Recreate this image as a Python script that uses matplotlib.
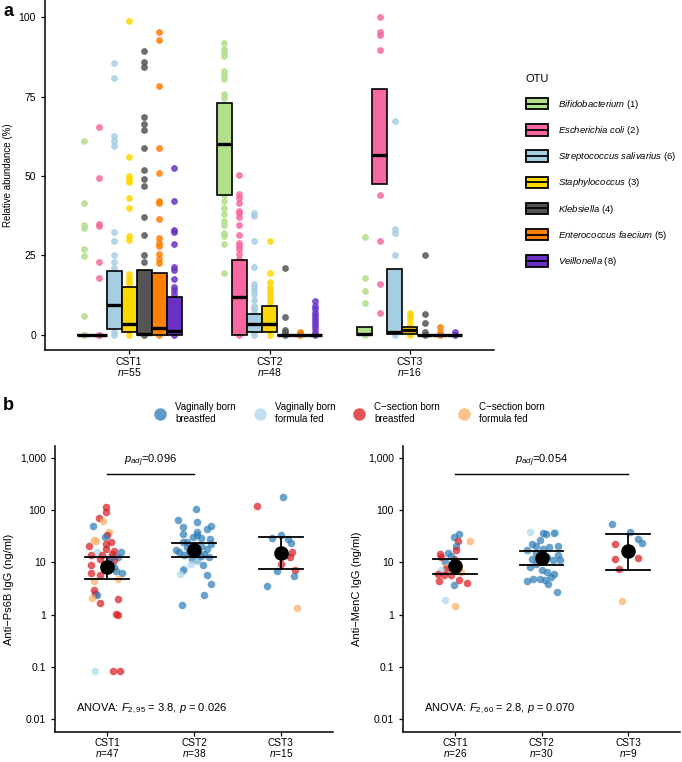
import numpy as np
import matplotlib.pyplot as plt
from matplotlib.patches import Rectangle
from matplotlib.lines import Line2D
from matplotlib.legend_handler import HandlerBase

plt.rcParams['font.family'] = ['Liberation Sans', 'DejaVu Sans']
plt.rcParams['mathtext.fontset'] = 'custom'
plt.rcParams['mathtext.rm'] = 'Liberation Sans'
plt.rcParams['mathtext.it'] = 'Liberation Sans:italic'
plt.rcParams['mathtext.bf'] = 'Liberation Sans:bold'

# ---- panel a data ----
cst_labels = ['CST1\n$\\it{n}$=55', 'CST2\n$\\it{n}$=48', 'CST3\n$\\it{n}$=16']
otu_names = ['$\\it{Bifidobacterium}$ (1)', '$\\it{Escherichia\\ coli}$ (2)',
             '$\\it{Streptococcus\\ salivarius}$ (6)', '$\\it{Staphylococcus}$ (3)',
             '$\\it{Klebsiella}$ (4)', '$\\it{Enterococcus\\ faecium}$ (5)',
             '$\\it{Veillonella}$ (8)']
otu_colors = ['#b2df8a', '#f768a1', '#a6cee3', '#ffd700', '#555555', '#ff7f00', '#6a32c4']

cst1_points = [
    [61, 41.4, 34.6, 33.8, 27.1, 24.8, 6, 0, 0, 0],
    [65.5, 49.5, 35, 34.2, 23, 18, 0, 0],
    [85.5, 81, 62.5, 61, 59.5, 32.5, 29.5, 25, 23, 21, 19, 17, 15, 13, 11, 9, 7, 5, 3, 1, 0],
    [99, 56, 50, 49, 48, 43, 40, 31, 30, 19, 18, 17, 16, 14, 12, 10, 8, 6, 4, 2, 0],
    [89.5, 86, 84.5, 68.5, 66.5, 64.5, 59, 52, 49, 47, 37, 31.5, 25, 23, 0],
    [95.5, 93, 78.5, 59, 51, 42, 41.5, 36.5, 30.5, 29, 28, 25.5, 24, 22.5, 0],
    [52.5, 42, 33, 32.5, 28.5, 21.5, 20.5, 17.5, 15, 14, 13, 0],
]
cst2_points = [
    [92, 90, 89, 88, 83, 82, 80.5, 76, 74.5, 72, 70, 66, 62, 58, 52, 48, 44, 42, 40,
     38, 36, 34.5, 32, 31, 28.5, 19.5],
    [50.5, 44.5, 43, 41.5, 39, 38.5, 37, 34.5, 31.5, 29, 28, 27, 25.5, 24, 20, 15, 10, 5, 0],
    [38.5, 37.5, 29.5, 21.5, 16, 15, 14, 13, 11, 9, 8, 7, 6, 5, 4, 3, 2, 1, 0],
    [29.7, 19.5, 16.5, 15, 14, 13, 12, 11, 10, 8, 6, 4, 2, 0],
    [20.9, 5.6, 1.5, 1, 0],
    [1, 0.5, 0],
    [10.5, 9, 8, 7, 6, 5, 4, 3, 2, 1, 0],
]
cst3_points = [
    [30.9, 17.8, 13.8, 10, 0],
    [100.3, 95.4, 94.5, 89.6, 44.2, 29.7, 16, 7],
    [67.4, 33.2, 32.2, 25.2, 0],
    [7, 6, 5, 3.5, 2, 0.5, 0],
    [25, 6.5, 3.7, 1, 0],
    [2.3, 1, 0],
    [0.8, 0],
]
# (q1, median, q3) per OTU
cst1_box = [(0, 0, 0), (0, 0, 0), (1.8, 9.5, 20), (1, 3.5, 15), (0, 0.3, 20.3), (0, 2, 19.5), (0, 1.2, 12)]
cst2_box = [(44, 60, 73), (0, 12, 23.5), (1, 3.5, 6.6), (0.8, 3.4, 9.2), (0, 0, 0), (0, 0, 0), (0, 0, 0)]
cst3_box = [(0, 0.3, 2.5), (47.4, 56.6, 77.4), (0.3, 0.8, 20.6), (0.3, 1.5, 2.5), (0, 0, 0), (0, 0, 0), (0, 0, 0)]

# ---- panel b data ----
group_names = ['Vaginally born\nbreastfed', 'Vaginally born\nformula fed',
               'C\u2212section born\nbreastfed', 'C\u2212section born\nformula fed']
group_colors = {'B': '#2c7bb6', 'LB': '#abd9e9', 'R': '#d7191c', 'O': '#fdae61'}

ps6b_labels = ['CST1\n$\\it{n}$=47', 'CST2\n$\\it{n}$=38', 'CST3\n$\\it{n}$=15']
ps6b_cst1 = [(114, -0.01, 'R'), (91, -0.01, 'R'), (70, -0.09, 'R'), (63, -0.05, 'O'),
             (50, -0.16, 'B'), (38, 0.02, 'O'), (34, 0.0, 'R'), (30, -0.03, 'B'),
             (27, -0.15, 'O'), (26, -0.13, 'O'), (24.5, 0.04, 'R'), (22.8, -0.01, 'R'),
             (21, -0.21, 'R'), (18, -0.01, 'R'), (16.3, 0.08, 'R'), (15.8, -0.12, 'LB'),
             (15.8, 0.16, 'B'), (13.7, -0.06, 'R'), (13.7, -0.18, 'R'), (12.7, 0.13, 'B'),
             (11.8, -0.08, 'R'), (11, 0.08, 'R'), (10.5, 0.02, 'R'), (9.5, -0.04, 'R'),
             (8.8, -0.19, 'R'), (8.8, 0.04, 'R'), (8.2, 0.08, 'B'), (6.8, 0.1, 'B'),
             (6.4, -0.18, 'R'), (6.3, 0.17, 'B'), (5.7, -0.08, 'R'), (4.9, 0.13, 'O'),
             (4.4, -0.15, 'O'), (2.9, -0.15, 'R'), (2.5, -0.14, 'R'), (2.4, -0.12, 'B'),
             (2.1, -0.17, 'O'), (1.7, -0.08, 'R'), (1.96, 0.13, 'R'), (1.04, 0.1, 'R'),
             (0.99, 0.12, 'R'), (0.082, -0.14, 'LB'), (0.082, 0.07, 'R'), (0.082, 0.15, 'R'),
             (12, 0.04, 'B'), (7.5, -0.01, 'B'), (14.5, 0.06, 'R')]
ps6b_cst2 = [(106, 0.02, 'B'), (65, -0.18, 'B'), (58.5, 0.04, 'B'), (50.7, 0.19, 'B'),
             (47, -0.13, 'B'), (44, 0.15, 'B'), (39, 0.04, 'B'), (35.4, -0.13, 'B'),
             (30.6, -0.01, 'B'), (29, 0.08, 'B'), (28.5, 0.18, 'B'), (24.5, -0.08, 'B'),
             (21, 0.08, 'B'), (19.6, -0.08, 'B'), (18.3, 0.15, 'B'), (17, -0.21, 'B'),
             (15.8, -0.17, 'B'), (14.7, 0.12, 'B'), (13.7, -0.12, 'B'), (12.7, 0.17, 'B'),
             (11.8, -0.02, 'B'), (11, 0.04, 'B'), (10.5, 0.04, 'LB'), (8.8, 0.1, 'B'),
             (7.8, -0.12, 'LB'), (7.1, -0.13, 'B'), (6.1, -0.16, 'LB'), (5.7, 0.15, 'B'),
             (3.9, 0.19, 'B'), (2.4, 0.12, 'B'), (1.53, -0.14, 'B'), (16, -0.06, 'B'),
             (20, 0.02, 'B'), (25, -0.13, 'B'), (9.5, -0.04, 'LB'), (13, 0.08, 'B'),
             (22, 0.19, 'B'), (33, 0.04, 'B')]
ps6b_cst3 = [(176, 0.02, 'B'), (118, -0.27, 'R'), (33.8, 0.0, 'B'), (29.2, -0.1, 'B'),
             (28.5, 0.08, 'B'), (23.4, 0.12, 'B'), (15.8, 0.13, 'R'), (13.7, 0.06, 'B'),
             (12.7, 0.1, 'R'), (9.2, 0.0, 'R'), (7.3, 0.16, 'R'), (6.8, -0.04, 'B'),
             (5.4, 0.15, 'B'), (3.6, -0.16, 'B'), (1.32, 0.19, 'O')]
ps6b_mean = [8.2, 17.5, 15.3]
ps6b_upper = [12.7, 23.4, 30.5]
ps6b_lower = [4.9, 12.7, 7.4]

menc_labels = ['CST1\n$\\it{n}$=26', 'CST2\n$\\it{n}$=30', 'CST3\n$\\it{n}$=9']
menc_cst1 = [(35.4, 0.05, 'B'), (30.6, -0.01, 'B'), (25.3, 0.17, 'O'), (25.3, 0.03, 'R'),
             (21, 0.01, 'B'), (17, 0.01, 'R'), (15.3, -0.08, 'B'), (14.7, -0.17, 'R'),
             (11.8, -0.01, 'R'), (10.2, -0.12, 'B'), (8, -0.1, 'O'), (7.4, -0.1, 'R'),
             (7.1, -0.16, 'LB'), (6.6, 0.07, 'O'), (5.7, -0.05, 'R'), (5.7, -0.13, 'R'),
             (4.6, 0.05, 'R'), (4.4, -0.18, 'R'), (4.1, 0.14, 'R'), (3.7, -0.01, 'B'),
             (1.9, -0.11, 'LB'), (1.46, 0.0, 'O'), (13, -0.05, 'B'), (9, 0.03, 'R'),
             (6, -0.2, 'R'), (12.5, -0.16, 'R')]
menc_cst2 = [(39, 0.16, 'LB'), (37.4, -0.13, 'LB'), (36.5, 0.02, 'B'), (34.6, 0.05, 'B'),
             (36, 0.15, 'B'), (26.5, -0.02, 'B'), (22.8, -0.11, 'B'), (21, 0.19, 'B'),
             (19.6, 0.09, 'B'), (18.3, 0.02, 'B'), (17, -0.17, 'B'), (13.7, 0.19, 'B'),
             (11.8, -0.11, 'B'), (11, 0.13, 'B'), (11, 0.21, 'B'), (9.5, -0.06, 'B'),
             (7.1, 0.0, 'B'), (6.6, 0.06, 'B'), (6.1, 0.15, 'B'), (5.3, 0.11, 'B'),
             (4.9, -0.02, 'B'), (4.6, 0.04, 'B'), (4.4, -0.17, 'B'), (4.9, -0.1, 'B'),
             (3.9, 0.08, 'B'), (2.66, 0.18, 'B'), (15, -0.06, 'B'), (12.5, 0.06, 'B'),
             (8, -0.13, 'B'), (20.5, -0.06, 'B')]
menc_cst3 = [(55, -0.19, 'B'), (39, 0.02, 'B'), (27.5, 0.12, 'B'), (23.4, 0.16, 'B'),
             (22.8, -0.15, 'R'), (12.3, 0.11, 'R'), (11.4, -0.15, 'R'), (7.6, -0.1, 'R'),
             (1.85, -0.07, 'O')]
menc_mean = [8.4, 12.2, 16.5]
menc_upper = [11.8, 16.5, 34.8]
menc_lower = [5.9, 8.9, 7.3]


class CrossbarHandler(HandlerBase):
    def create_artists(self, legend, orig_handle, xdescent, ydescent, width, height,
                       fontsize, trans):
        rect = Rectangle((-xdescent, -ydescent), width, height,
                         facecolor=orig_handle.get_facecolor(), edgecolor='black',
                         linewidth=1.3, transform=trans)
        mid = Line2D([-xdescent, -xdescent + width], [-ydescent + height / 2] * 2,
                     color='black', linewidth=1.3, transform=trans)
        return [rect, mid]


def style_axes(ax):
    for s in ['top', 'right']:
        ax.spines[s].set_visible(False)
    for s in ['left', 'bottom']:
        ax.spines[s].set_linewidth(1.1)
    ax.tick_params(length=3, width=0.9, colors='black', labelsize=7.5)
    ax.tick_params(axis='x', pad=2)


fig = plt.figure(figsize=(6.82, 7.62), dpi=100)

# ================= panel a =================
ax = fig.add_axes([45 / 682, 1 - 350 / 762, 449 / 682, 350 / 762])
style_axes(ax)
n_otu = len(otu_names)
w = 0.75 / n_otu
for ci, (pts, boxes) in enumerate(zip([cst1_points, cst2_points, cst3_points],
                                      [cst1_box, cst2_box, cst3_box])):
    for oi in range(n_otu):
        xpos = ci + 1 + (oi - (n_otu - 1) / 2) * w
        vals = np.array(pts[oi])
        ax.scatter(np.full(len(vals), xpos), vals, s=24, color=otu_colors[oi],
                   alpha=0.85, linewidths=0, zorder=2)
    for oi in range(n_otu):
        xpos = ci + 1 + (oi - (n_otu - 1) / 2) * w
        q1, med, q3 = boxes[oi]
        ax.add_patch(Rectangle((xpos - w / 2, q1), w, q3 - q1, facecolor=otu_colors[oi],
                               edgecolor='black', linewidth=1.2, zorder=3))
        ax.plot([xpos - w / 2, xpos + w / 2], [med, med], color='black', lw=2.4,
                solid_capstyle='butt', zorder=4)

ax.set_xlim(0.4, 3.6)
ax.set_ylim(-4.8, 105.5)
ax.set_yticks([0, 25, 50, 75, 100])
ax.set_xticks([1, 2, 3])
ax.set_xticklabels(cst_labels, fontsize=7.5, linespacing=0.95)
ax.set_ylabel('Relative abundance (%)', fontsize=7)
ax.tick_params(axis='y', labelsize=7.5)

handles = [Rectangle((0, 0), 1, 1, facecolor=c) for c in otu_colors]
fig.legend(handles, otu_names, loc='upper left', bbox_to_anchor=(517 / 682, 1 - 66 / 762),
           title='OTU', title_fontsize=8, fontsize=6.8, frameon=False,
           handler_map={Rectangle: CrossbarHandler()}, handlelength=2.4,
           handleheight=1.5, labelspacing=1.4, handletextpad=1.0, alignment='left')

fig.text(3 / 682, 1 - 11 / 762, 'a', fontsize=13, fontweight='bold', va='center')

# ================= panel b =================
ytick_vals = [0.01, 0.1, 1, 10, 100, 1000]
ytick_labels = ['0.01', '0.1', '1', '10', '100', '1,000']


def draw_titer(ax, groups, means, uppers, lowers, labels, ylabel, sig, anova):
    style_axes(ax)
    ax.set_yscale('log')
    for ci, grp in enumerate(groups):
        for v, off, code in grp:
            ax.scatter(ci + 1 + off, v, s=30, color=group_colors[code], alpha=0.7,
                       linewidths=0, zorder=2)
    x = np.arange(1, 4)
    for xi, lo, hi in zip(x, lowers, uppers):
        ax.plot([xi, xi], [lo, hi], color='black', lw=1.3, zorder=3)
        ax.plot([xi - 0.25, xi + 0.25], [lo, lo], color='black', lw=1.3, zorder=3)
        ax.plot([xi - 0.25, xi + 0.25], [hi, hi], color='black', lw=1.3, zorder=3)
    ax.scatter(x, means, s=110, color='black', zorder=4, linewidths=0)
    ax.set_xlim(0.4, 3.6)
    ax.set_ylim(10 ** -2.247, 10 ** 3.228)
    ax.set_yticks(ytick_vals)
    ax.set_yticklabels(ytick_labels)
    ax.minorticks_off()
    ax.set_xticks(x)
    ax.set_xticklabels(labels, fontsize=7.3, linespacing=0.9)
    ax.tick_params(axis='x', pad=1.5)
    ax.tick_params(axis='y', labelsize=7.5)
    ax.set_ylabel(ylabel, fontsize=8)
    (x0, x1), ptext = sig
    ax.plot([x0, x1], [500, 500], color='black', lw=1.0)
    ax.text((x0 + x1) / 2, 880, ptext, ha='center', va='center', fontsize=8)
    ax.text(0.64, 0.016, anova, ha='left', va='center', fontsize=8)


axl = fig.add_axes([55 / 682, 30 / 762, 278 / 682, 286 / 762])
draw_titer(axl, [ps6b_cst1, ps6b_cst2, ps6b_cst3], ps6b_mean, ps6b_upper, ps6b_lower,
           ps6b_labels, 'Anti\u2212Ps6B IgG (ng/ml)', ((1, 2), '$p_{adj}$=0.096'),
           'ANOVA: $F_{\\mathrm{2,95}}$ = 3.8, $p$ = 0.026')

axr = fig.add_axes([403 / 682, 30 / 762, 277 / 682, 286 / 762])
draw_titer(axr, [menc_cst1, menc_cst2, menc_cst3], menc_mean, menc_upper, menc_lower,
           menc_labels, 'Anti\u2212MenC IgG (ng/ml)', ((1, 3), '$p_{adj}$=0.054'),
           'ANOVA: $F_{\\mathrm{2,60}}$ = 2.8, $p$ = 0.070')

leg_handles = [Line2D([], [], marker='o', linestyle='', markersize=9,
                      markerfacecolor=group_colors[c], markeredgewidth=0, alpha=0.75)
               for c in ['B', 'LB', 'R', 'O']]
fig.legend(leg_handles, group_names, loc='center', bbox_to_anchor=(350 / 682, 1 - 413 / 762),
           ncol=4, frameon=False, fontsize=7, handlelength=1.0, handletextpad=1.0,
           columnspacing=2.0)

fig.text(3 / 682, 1 - 406 / 762, 'b', fontsize=13, fontweight='bold', va='center')

fig.savefig('out.png', dpi=100)
